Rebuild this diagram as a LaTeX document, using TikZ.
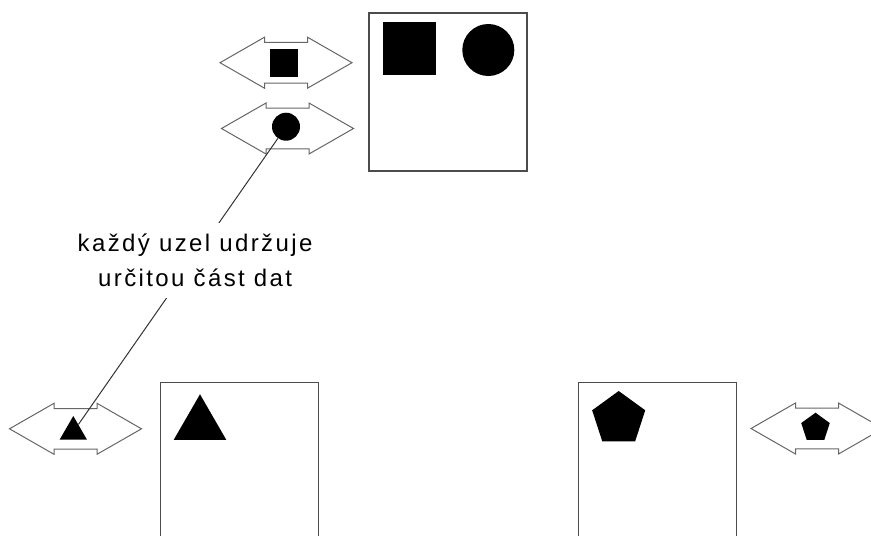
\documentclass[tikz,border=0pt]{standalone}
\usepackage{fontspec}
\setmainfont{Liberation Sans}
\usetikzlibrary{shapes.geometric}

%% outline of a two-headed arrow, centred on a named coordinate
\newcommand{\dblarrow}[1]{%
  \draw[dbl, shift={(#1)}] (-66,0) -- (-21.5,-25.5) -- (-21.5,-20.3) -- (21.5,-20.3)
    -- (21.5,-25.5) -- (66,0) -- (21.5,25.5) -- (21.5,20.3) -- (-21.5,20.3)
    -- (-21.5,25.5) -- cycle;}

\begin{document}
\begin{tikzpicture}[
  x=1pt, y=-1pt,
  store/.style={draw=black!70, line width=1.1pt, minimum size=158pt, inner sep=0pt},
  item/.style={fill=black, inner sep=0pt},
  sqitem/.style={item, rectangle},
  ciritem/.style={item, circle},
  triitem/.style={item, regular polygon, regular polygon sides=3},
  penitem/.style={item, regular polygon, regular polygon sides=5},
  dbl/.style={draw=black!60, line width=1pt, fill=white},
  note/.style={font=\fontsize{24}{35}\selectfont\addfontfeature{LetterSpace=10},
               align=center, fill=white, inner xsep=2pt, inner ysep=11pt},
  link/.style={draw=black!80, line width=1pt},
]
\useasboundingbox (0,0) rectangle (871,536);
\clip (0,0) rectangle (871,536);

%% ---- Top node with its full data ----
\node[store] (topnode) at (448,92) {};
\node[sqitem, minimum size=52.5pt] (topsq) at (409.7,48.3) {};
\node[ciritem, minimum size=52pt] (topcir) at (488.3,50) {};

%% ---- Replication arrows of the top node ----
\coordinate (arrA) at (286,62.7);
\coordinate (arrB) at (287.5,128.5);
\dblarrow{arrA}
\dblarrow{arrB}
\node[sqitem, minimum size=28pt] (sq) at (284,63) {};
\node[ciritem, minimum size=28pt] (cir) at (286,126.7) {};

%% ---- Bottom left node ----
\node[store] (leftnode) at (239.2,461.3) {};
\node[triitem, minimum size=60.8pt] (lefttri) at (200,424.7) {};
\coordinate (arrC) at (75.5,428.8);
\dblarrow{arrC}
\node[triitem, minimum size=31.6pt] (tri) at (73.3,431.8) {};

%% ---- Bottom right node ----
\node[store] (rightnode) at (657.2,461.3) {};
\node[penitem, minimum size=55.8pt] (rightpen) at (618.7,418.9) {};
\coordinate (arrD) at (817,428.5);
\dblarrow{arrD}
\node[penitem, minimum size=30pt] (pen) at (815.5,427.7) {};

%% ---- Annotation ----
\draw[link] (cir) -- node[note, pos=0.44, xshift=5pt, yshift=4pt] {každý uzel udržuje\\určitou část dat} (tri);

\end{tikzpicture}
\end{document}
